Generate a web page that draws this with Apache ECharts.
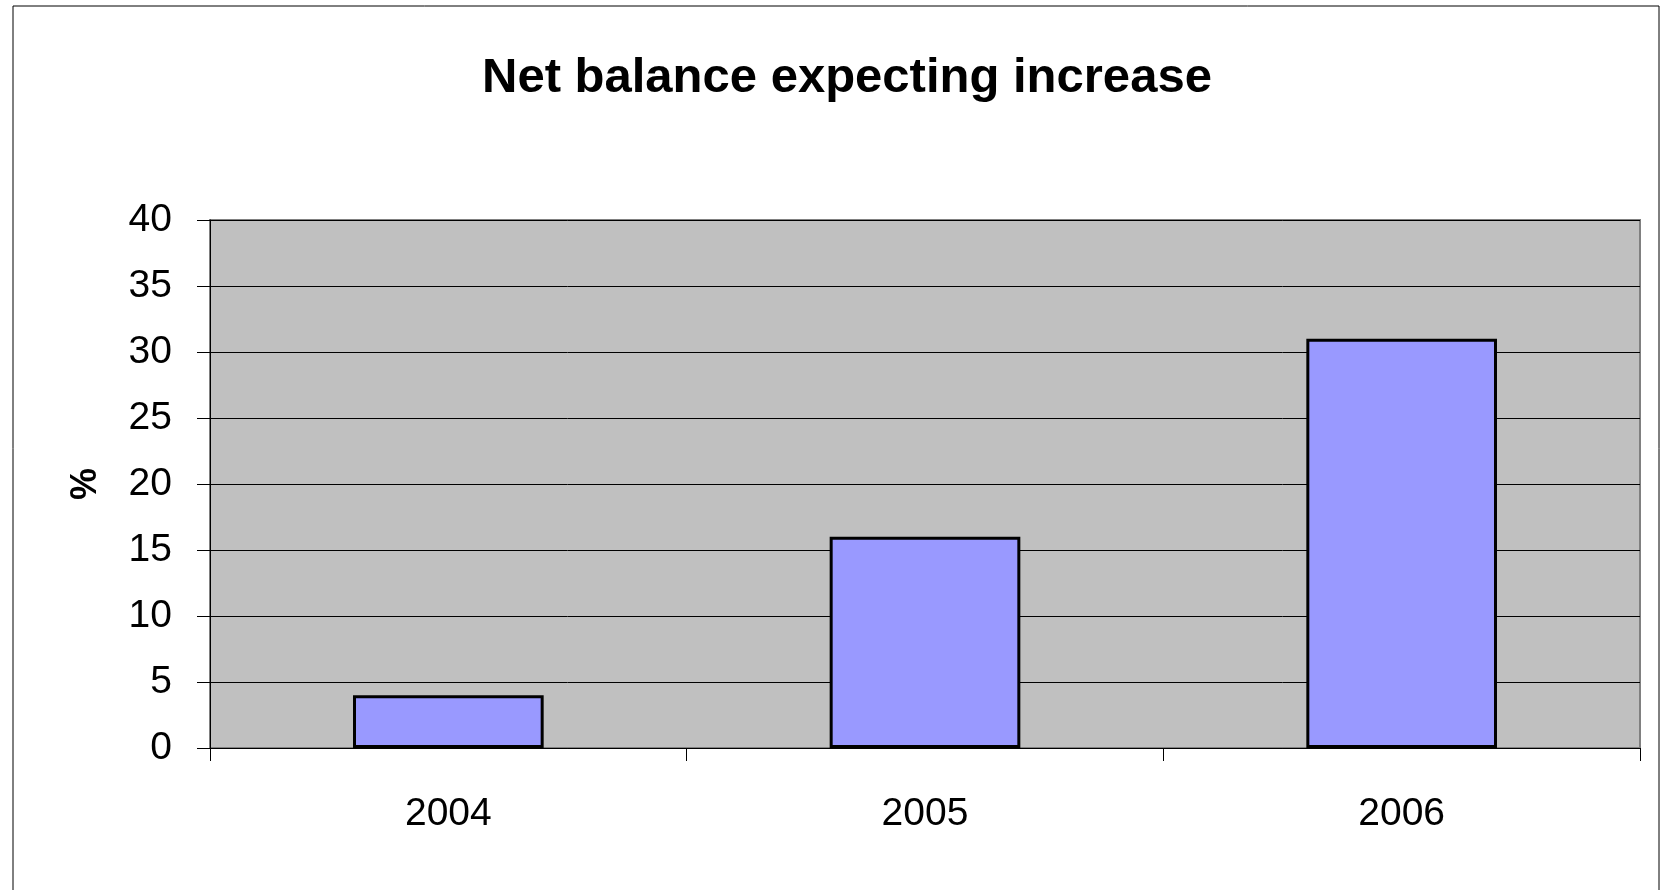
<!DOCTYPE html>
<html>
<head>
<meta charset="utf-8">
<script src="https://cdn.jsdelivr.net/npm/echarts@6/dist/echarts.min.js"></script>
<style>
	html, body { margin: 0; padding: 0; background: #fff; }
	#main { width: 1661px; height: 890px; }
</style>
</head>
<body>
<div id="main"></div>
<script>
// 数据
const years = ['2004', '2005', '2006'];
const netBalance = [4, 16, 31];
const yMin = 0;
const yMax = 40;
const yStep = 5;

const FONT = '"Liberation Sans", Arial, sans-serif';

const chart = echarts.init(document.getElementById('main'));
const option = {
	backgroundColor: '#ffffff',
	animation: false,
	title: {
		text: 'Net balance expecting increase',
		left: 477,
		top: 49,
		textStyle: {
			fontFamily: FONT,
			fontSize: 49,
			fontWeight: 'bold',
			color: '#000'
		}
	},
	// 外框
	graphic: [{
		type: 'rect',
		shape: { x: 13, y: 6, width: 1646, height: 900 },
		style: { fill: 'none', stroke: '#000', lineWidth: 1 },
		silent: true
	}],
	grid: {
		left: 210,
		right: 21,
		top: 220,
		bottom: 142,
		show: true,
		backgroundColor: '#c0c0c0',
		borderColor: '#808080',
		borderWidth: 2
	},
	xAxis: {
		type: 'category',
		data: years,
		axisLine: { lineStyle: { color: '#000', width: 1 } },
		axisTick: { show: true, length: 13, lineStyle: { color: '#000' } },
		axisLabel: {
			margin: 47,
			fontFamily: FONT,
			fontSize: 39,
			color: '#000'
		}
	},
	yAxis: {
		type: 'value',
		min: yMin,
		max: yMax,
		interval: yStep,
		name: '%',
		nameLocation: 'middle',
		nameGap: 106,
		nameTextStyle: {
			fontFamily: FONT,
			fontSize: 36,
			fontWeight: 'bold',
			color: '#000'
		},
		axisLine: { show: true, lineStyle: { color: '#000', width: 1 } },
		axisTick: { show: true, length: 13, lineStyle: { color: '#000' } },
		axisLabel: {
			margin: 38,
			fontFamily: FONT,
			fontSize: 39,
			color: '#000'
		},
		splitLine: { show: true, lineStyle: { color: '#000', width: 1 } }
	},
	series: [{
		type: 'bar',
		data: netBalance,
		barWidth: '40%',
		itemStyle: {
			color: '#9999ff',
			borderColor: '#000',
			borderWidth: 3
		}
	}]
};
chart.setOption(option);
</script>
</body>
</html>
